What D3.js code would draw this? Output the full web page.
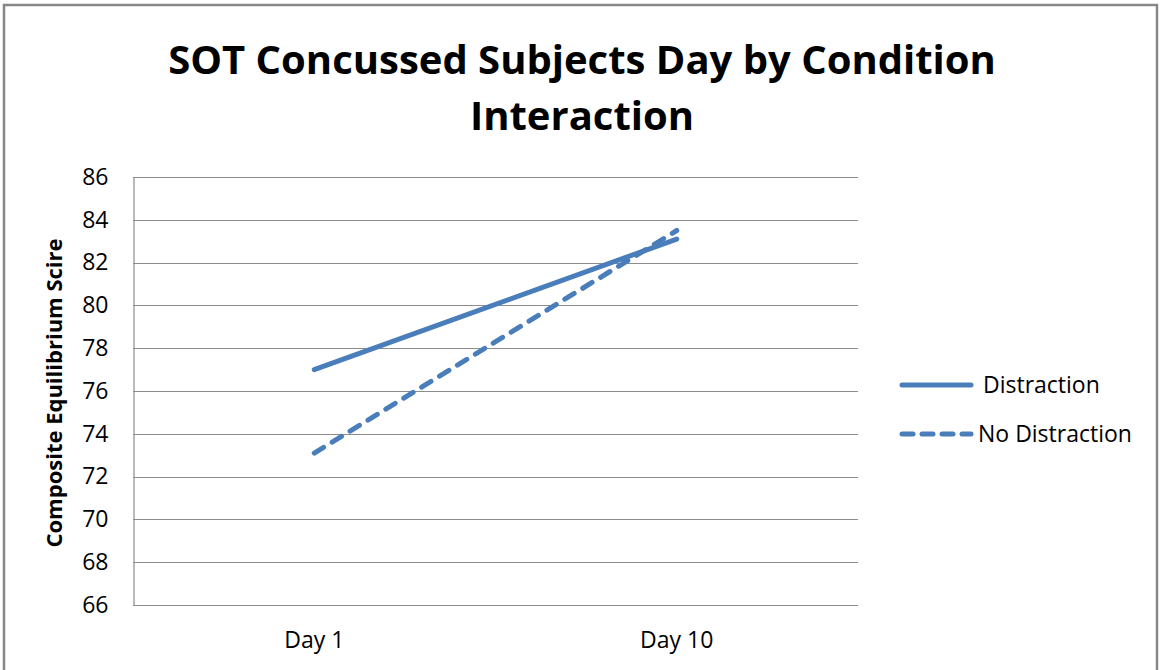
<!DOCTYPE html>
<html>
<head>
<meta charset="utf-8">
<script src="https://cdn.jsdelivr.net/npm/d3@7"></script>
<style>
  body { margin: 0; background: #fff; }
  text { font-family: "Open Sans", "Liberation Sans", sans-serif; fill: #000; }
</style>
</head>
<body>
<svg id="chart" width="1160" height="670"></svg>
<script>
var days = ["Day 1", "Day 10"];
var distraction = [77.0, 83.1];
var noDistraction = [73.1, 83.5];
var seriesNames = ["Distraction", "No Distraction"];
var yTicks = [66, 68, 70, 72, 74, 76, 78, 80, 82, 84, 86];

var svg = d3.select("#chart"),
    width = +svg.attr("width"),
    height = +svg.attr("height");

var blue = "#4a7ebb";
var margin = { left: 133, right: 302, top: 177, bottom: 65 };

// outer frame
svg.append("rect")
    .attr("x", 4).attr("y", 5)
    .attr("width", width - 7).attr("height", height)
    .attr("fill", "none")
    .attr("stroke", "#878787")
    .attr("stroke-width", 2.5);

var x = d3.scaleBand()
    .domain(days)
    .range([margin.left, width - margin.right]);

var y = d3.scaleLinear()
    .domain([66, 86])
    .range([height - margin.bottom, margin.top]);

// gridlines
svg.append("g")
    .selectAll("line")
    .data(yTicks)
    .enter().append("line")
    .attr("x1", margin.left)
    .attr("x2", width - margin.right)
    .attr("y1", function(d) { return Math.round(y(d)) + 0.5; })
    .attr("y2", function(d) { return Math.round(y(d)) + 0.5; })
    .attr("stroke", "#8c8c8c")
    .attr("stroke-width", 1.2);

// y axis
var yAxis = svg.append("g")
    .attr("transform", "translate(" + (margin.left + 0.5) + ",0)")
    .call(d3.axisLeft(y).tickValues(yTicks).tickSize(0).tickPadding(25));
yAxis.select(".domain").attr("stroke", "#8c8c8c").attr("stroke-width", 1.2);
yAxis.selectAll("text").style("font-size", "23px").attr("fill", "#000");

// x axis labels
var xAxis = svg.append("g")
    .attr("transform", "translate(0," + (height - margin.bottom) + ")")
    .call(d3.axisBottom(x).tickSize(0).tickPadding(27));
xAxis.select(".domain").remove();
xAxis.selectAll("text").style("font-size", "23px").attr("fill", "#000");

// lines
var line = d3.line()
    .x(function(d, i) { return x(days[i]) + x.bandwidth() / 2; })
    .y(function(d) { return y(d); });

svg.append("path")
    .datum(distraction)
    .attr("d", line)
    .attr("fill", "none")
    .attr("stroke", blue)
    .attr("stroke-width", 5)
    .attr("stroke-linecap", "round");

svg.append("path")
    .datum(noDistraction)
    .attr("d", line)
    .attr("fill", "none")
    .attr("stroke", blue)
    .attr("stroke-width", 5)
    .attr("stroke-linecap", "round")
    .attr("stroke-dasharray", "11,10");

// title
var title = svg.append("text")
    .attr("text-anchor", "middle")
    .style("font-size", "40px")
    .style("font-weight", "bold");
title.append("tspan").attr("x", 582).attr("y", 74).text("SOT Concussed Subjects Day by Condition");
title.append("tspan").attr("x", 582).attr("y", 130).text("Interaction");

// y label
svg.append("text")
    .attr("transform", "translate(62," + 393 + ") rotate(-90)")
    .attr("text-anchor", "middle")
    .style("font-size", "22px")
    .style("font-weight", "bold")
    .text("Composite Equilibrium  Scire");

// legend
var legend = svg.append("g")
    .selectAll("g")
    .data(seriesNames)
    .enter().append("g")
    .attr("transform", function(d, i) { return "translate(902," + (385 + i * 49) + ")"; });

legend.append("line")
    .attr("x1", 0).attr("x2", 69)
    .attr("stroke", blue)
    .attr("stroke-width", 5)
    .attr("stroke-linecap", "round")
    .attr("stroke-dasharray", function(d, i) { return i ? "11,9" : null; });

legend.append("text")
    .attr("x", function(d, i) { return i ? 76 : 81; })
    .attr("dy", "0.35em")
    .style("font-size", "23px")
    .text(function(d) { return d; });
</script>
</body>
</html>
